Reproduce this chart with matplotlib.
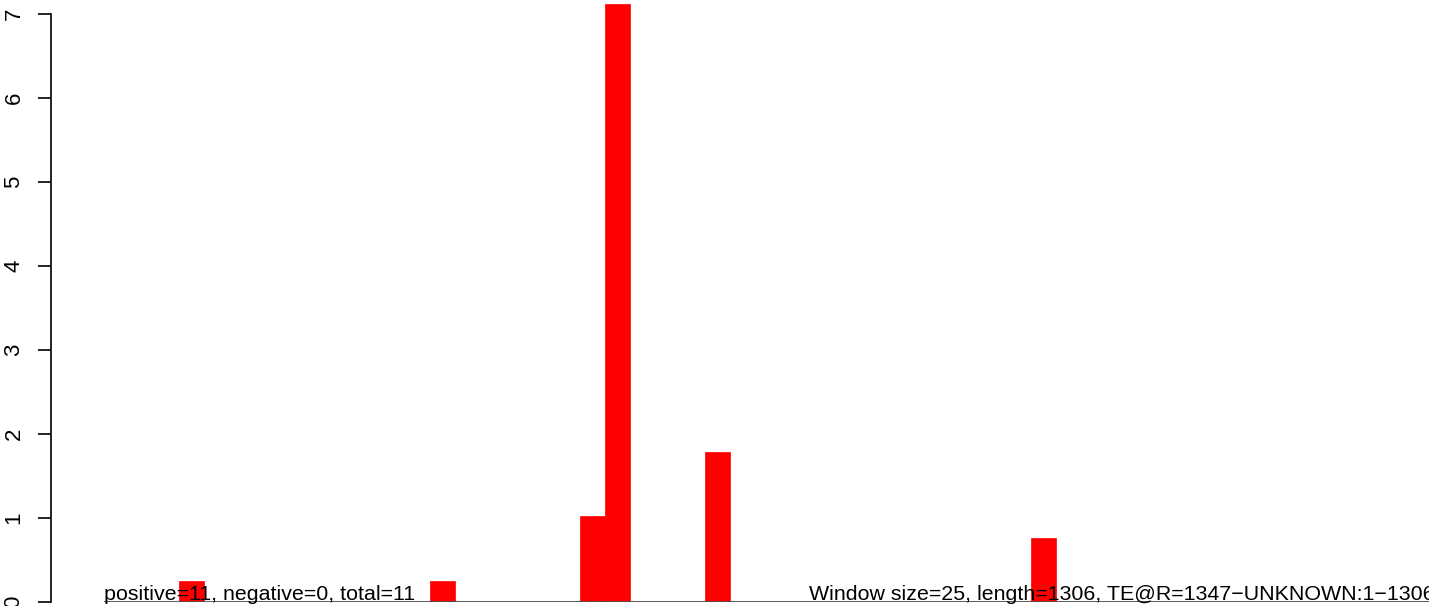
import matplotlib
matplotlib.use("Agg")
import matplotlib.pyplot as plt

# Data
window_size = 25
seq_length = 1306
window_index = [3, 13, 19, 20, 24, 37]
bar_values = [0.25, 0.25, 1.02, 7.12, 1.78, 0.76]
y_ticks = [0, 1, 2, 3, 4, 5, 6, 7]
left_text = "positive=11, negative=0, total=11"
right_text = "Window size=25, length=1306, TE@R=1347\u2212UNKNOWN:1\u22121306"

W, H, DPI = 1429, 606, 100
plt.rcParams['font.family'] = ['Liberation Sans', 'DejaVu Sans']

fig = plt.figure(figsize=(W / DPI, H / DPI), dpi=DPI)
ax_left_px = 50.5
ax_bottom_px = 601.5
ax = fig.add_axes([ax_left_px / W, (H - ax_bottom_px) / H, (W - ax_left_px) / W, ax_bottom_px / H])

xstart = [i * window_size for i in window_index]
ax.bar(xstart, bar_values, width=window_size, align='edge', color='#ff0000',
       edgecolor='#ff0000', linewidth=0.5, zorder=2)
n_windows = -(-seq_length // window_size)
ax.hlines(0, 0, n_windows * window_size, color='#4d4d4d', linewidth=1.3, zorder=3)

px_per_bp = 1.002
ax.set_xlim(-(104.15 - ax_left_px) / px_per_bp, (W - 104.15) / px_per_bp)
units_px = (ax_bottom_px - 14.0) / 7.0
ax.set_ylim(0, ax_bottom_px / units_px)

for s in ['top', 'right', 'bottom']:
    ax.spines[s].set_visible(False)
ax.spines['left'].set_bounds(0, 7)
ax.spines['left'].set_linewidth(1.2)
ax.set_xticks([])
ax.set_yticks(y_ticks)
ax.set_yticklabels([str(v) for v in y_ticks], rotation=90, va='center', fontsize=16)
ax.tick_params(axis='y', length=13 * 72 / DPI, width=1.2, pad=13 * 72 / DPI)

base_y = (H - 600.5) / H
fig.text(103.5 / W, base_y, left_text, fontsize=15.4, va='baseline', ha='left', zorder=5)
fig.text(809 / W, base_y, right_text, fontsize=15.4, va='baseline', ha='left', zorder=5)

fig.savefig('out.png', dpi=DPI)
